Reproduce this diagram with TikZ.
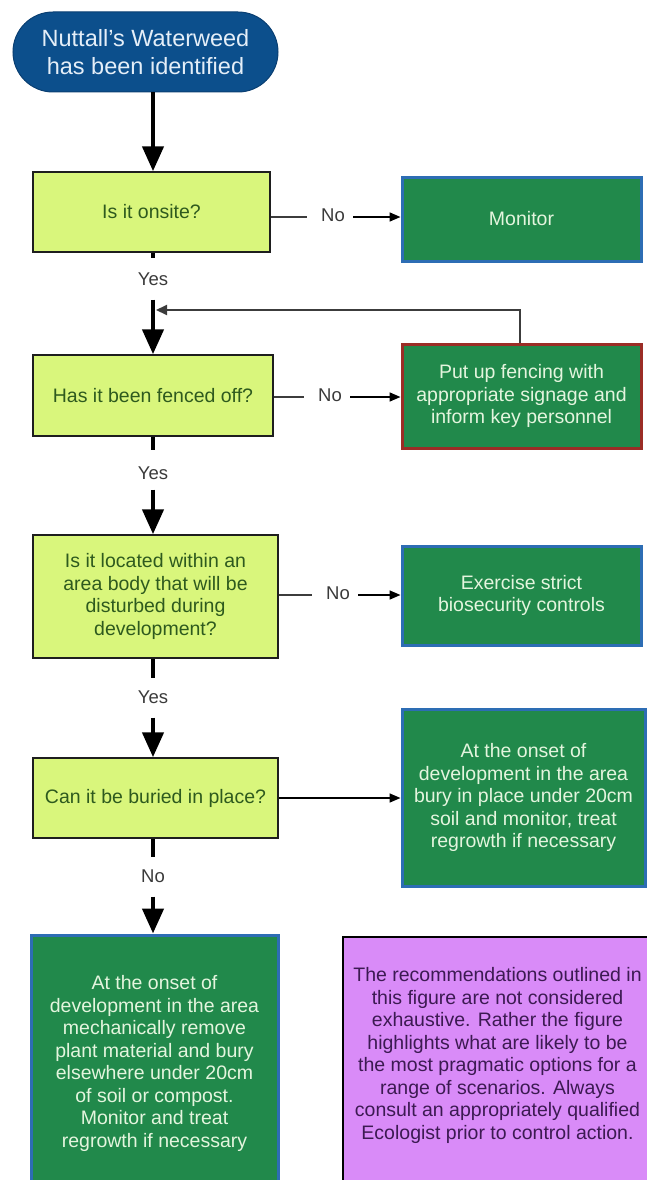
\documentclass[tikz,border=0pt]{standalone}
\usepackage{fontspec}
\setmainfont{Liberation Sans}
\usetikzlibrary{arrows.meta}
\definecolor{startfill}{HTML}{0C4F8C}
\definecolor{startdraw}{HTML}{0A3F72}
\definecolor{starttext}{HTML}{E4EEF8}
\definecolor{qfill}{HTML}{D9F67C}
\definecolor{qdraw}{HTML}{1E1E1E}
\definecolor{qtext}{HTML}{2E5A1E}
\definecolor{actfill}{HTML}{21894B}
\definecolor{actdraw}{HTML}{2D6DB4}
\definecolor{acttext}{HTML}{E4F5DE}
\definecolor{fencedraw}{HTML}{9B2D26}
\definecolor{purpfill}{HTML}{D98BF8}
\definecolor{purptext}{HTML}{3C1A52}
\definecolor{lblgray}{HTML}{3A3A3A}
\definecolor{linegray}{HTML}{3C3C3C}
\begin{document}
\begin{tikzpicture}[x=1pt,y=-1pt,
  bodyfont/.style={font=\fontsize{19.5}{22.5}\selectfont},
  startbox/.style={draw=startdraw, line width=1pt, fill=startfill, text=starttext, rounded corners=40pt,
    align=center, inner sep=0pt, font=\fontsize{23.5}{28}\selectfont},
  qbox/.style={draw=qdraw, line width=1.5pt, fill=qfill, text=qtext, align=center, inner sep=0pt, bodyfont},
  actbox/.style={draw=actdraw, line width=3pt, fill=actfill, text=acttext, align=center, inner sep=0pt, bodyfont},
  notebox/.style={draw=black, line width=1.5pt, fill=purpfill, text=purptext, align=center, inner sep=0pt, bodyfont},
  lbl/.style={text=lblgray, font=\fontsize{18.5}{22}\selectfont, inner sep=0pt, text height=13pt, text depth=4pt},
  mainline/.style={line width=4.5pt, black},
  mainarrow/.style={line width=4.5pt, black, -{Triangle[width=21pt,length=25pt]}},
  sideline/.style={line width=1.6pt, linegray},
  sidearrow/.style={line width=1.6pt, black, -{Triangle[width=9pt,length=11pt]}},
  backarrow/.style={line width=2pt, linegray, -{Triangle[width=10pt,length=11pt]}}
]
\useasboundingbox (0,0) rectangle (646,1180);
\coordinate (mx) at (153,0);

% nodes
\node[startbox, minimum width=265pt, minimum height=80pt] (start) at (145.5,52)
  {Nuttall's Waterweed\\has been identified};

\node[qbox, minimum width=237pt, minimum height=80pt] (q1) at (151.5,212) {Is it onsite?};
\node[qbox, minimum width=240pt, minimum height=81pt] (q2) at (153,395.5) {Has it been fenced off?};
\node[qbox, minimum width=245pt, minimum height=123pt] (q3) at (155.5,596.5)
  {Is it located within an\\area body that will be\\disturbed during\\development?};
\node[qbox, minimum width=245pt, minimum height=80pt] (q4) at (155.5,798) {Can it be buried in place?};

\node[actbox, minimum width=239pt, minimum height=84pt] (monitor) at (521.5,219) {Monitor};
\node[actbox, draw=fencedraw, minimum width=239pt, minimum height=104pt] (fence) at (521.5,396)
  {Put up fencing with\\appropriate signage and\\inform key personnel};
\node[actbox, minimum width=239pt, minimum height=99pt] (bio) at (521.5,595.5)
  {Exercise strict\\biosecurity controls};
\node[actbox, minimum width=243pt, minimum height=177pt] (bury) at (523.5,797.5)
  {At the onset of\\development in the area\\bury in place under 20cm\\soil and monitor, treat\\regrowth if necessary};
\node[actbox, minimum width=247pt, minimum height=257pt] (remove) at (154.5,1063.5)
  {At the onset of\\development in the area\\mechanically remove\\plant material and bury\\elsewhere under 20cm\\of soil or compost.\\Monitor and treat\\regrowth if necessary};
\node[notebox, minimum width=309pt, minimum height=255pt] (note) at (497.5,1064.5)
  {The recommendations outlined in\\this figure are not considered\\exhaustive. Rather the figure\\highlights what are likely to be\\the most pragmatic options for a\\range of scenarios. Always\\consult an appropriately qualified\\Ecologist prior to control action.\\\mbox{}};

% labels
\node[lbl] (yes1) at (153,281) {Yes};
\node[lbl] (yes2) at (153,475) {Yes};
\node[lbl] (yes3) at (153,699) {Yes};
\node[lbl] (no4) at (153,878) {No};
\node[lbl] (no1) at (333,217) {No};
\node[lbl] (no2) at (330,397) {No};
\node[lbl] (no3) at (338,595) {No};
\coordinate (fb) at (156,310);

% main flow
\draw[mainarrow] (start.south -| mx) -- (q1.north -| mx);
\draw[mainline, shorten >=14pt] (q1.south -| mx) -- (yes1.north);
\draw[mainarrow, shorten <=10pt] (yes1.south) -- (q2.north -| mx);
\draw[mainline, shorten >=16pt] (q2.south -| mx) -- (yes2.north);
\draw[mainarrow, shorten <=6pt] (yes2.south) -- (q3.north -| mx);
\draw[mainline, shorten >=12pt] (q3.south -| mx) -- (yes3.north);
\draw[mainarrow, shorten <=10pt] (yes3.south) -- (q4.north -| mx);
\draw[mainline, shorten >=12pt] (q4.south -| mx) -- (no4.north);
\draw[mainarrow, shorten <=10pt] (no4.south) -- (remove.north -| mx);

% side branches
\draw[sideline, shorten >=14pt] (q1.east |- no1) -- (no1.west);
\draw[sidearrow, shorten <=8pt] (no1.east) -- (monitor.west |- no1);
\draw[sideline, shorten >=14pt] (q2.east |- no2) -- (no2.west);
\draw[sidearrow, shorten <=8pt] (no2.east) -- (fence.west |- no2);
\draw[sideline, shorten >=14pt] (q3.east |- no3) -- (no3.west);
\draw[sidearrow, shorten <=8pt] (no3.east) -- (bio.west |- no3);
\draw[sidearrow] (q4.east) -- (bury.west |- q4.east);

% feedback
\draw[backarrow] ([xshift=-1.5pt]fence.north) |- (fb);
\end{tikzpicture}
\end{document}
